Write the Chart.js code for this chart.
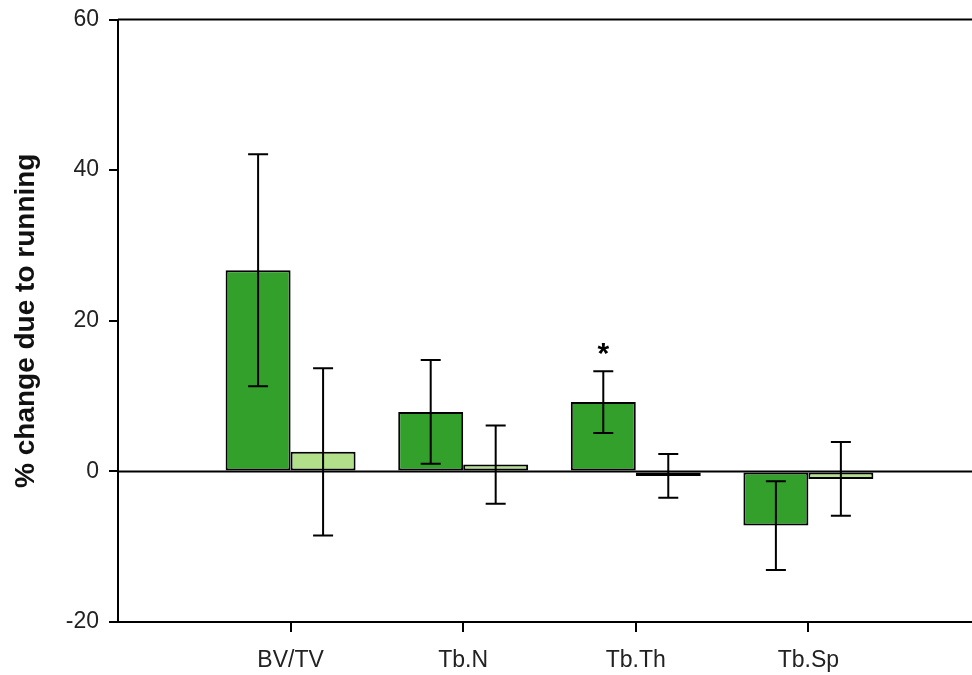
<!DOCTYPE html>
<html>
<head>
<meta charset="utf-8">
<script src="https://cdn.jsdelivr.net/npm/chart.js@4.4.1/dist/chart.umd.min.js"></script>
<style>
  html, body { margin: 0; padding: 0; background: #fff; overflow: hidden; }
  #wrap { width: 972px; height: 675px; }
</style>
</head>
<body>
<div id="wrap"><canvas id="myChart"></canvas></div>
<script>
const categories = ['BV/TV', 'Tb.N', 'Tb.Th', 'Tb.Sp'];
const runMeans = [26.7, 7.9, 9.2, -7.2];
const runErr = [15.4, 6.9, 4.1, 5.9];
const ctrlMeans = [2.6, 0.9, -0.6, -1.0];
const ctrlErr = [11.1, 5.2, 2.9, 4.9];
const sigMarks = ['', '', '*', ''];
const yTicks = [-20, 0, 20, 40, 60];

const FONT = "'Liberation Sans', Arial, sans-serif";

// bars sit at x = 1..4 on a linear axis
function points(vals){
  return vals.map((v, i) => ({ x: i + 1, y: v }));
}

// error bars, zero line, top frame and the significance star
const extras = {
  id: 'extras',
  afterDatasetsDraw(chart){
    const ctx = chart.ctx;
    const ys = chart.scales.y;
    const area = chart.chartArea;
    ctx.save();
    ctx.strokeStyle = '#000';
    ctx.lineWidth = 2;

    // top frame line
    ctx.beginPath();
    ctx.moveTo(area.left, ys.getPixelForValue(60));
    ctx.lineTo(area.right, ys.getPixelForValue(60));
    ctx.stroke();

    // zero line
    const y0 = ys.getPixelForValue(0);
    ctx.beginPath();
    ctx.moveTo(area.left, y0);
    ctx.lineTo(area.right, y0);
    ctx.stroke();

    const errs = [runErr, ctrlErr];
    const means = [runMeans, ctrlMeans];
    for (let d = 0; d < 2; d++){
      const meta = chart.getDatasetMeta(d);
      meta.data.forEach((bar, i) => {
        const x = bar.x;
        const hi = ys.getPixelForValue(means[d][i] + errs[d][i]);
        const lo = ys.getPixelForValue(means[d][i] - errs[d][i]);
        ctx.beginPath();
        ctx.moveTo(x, hi); ctx.lineTo(x, lo);
        ctx.moveTo(x - 10, hi); ctx.lineTo(x + 10, hi);
        ctx.moveTo(x - 10, lo); ctx.lineTo(x + 10, lo);
        ctx.stroke();
        if (d === 0 && sigMarks[i]){
          ctx.fillStyle = '#000';
          ctx.font = 'bold 30px ' + FONT;
          ctx.textAlign = 'center';
          ctx.textBaseline = 'middle';
          ctx.fillText(sigMarks[i], x, hi - 16);
        }
      });
    }
    ctx.restore();
  }
};

const config = {
  type: 'bar',
  data: {
    datasets: [{
      label: 'Running',
      data: points(runMeans),
      backgroundColor: '#33a02c',
      borderColor: '#000',
      borderWidth: 2,
      borderSkipped: false
    }, {
      label: 'Control',
      data: points(ctrlMeans),
      backgroundColor: '#b2df8a',
      borderColor: '#000',
      borderWidth: 2,
      borderSkipped: false
    }]
  },
  plugins: [extras],
  options: {
    responsive: true,
    maintainAspectRatio: false,
    animation: false,
    categoryPercentage: 0.753,
    barPercentage: 1.0,
    layout: { padding: { top: 19.5, right: 0, left: 9, bottom: 0 } },
    plugins: { legend: { display: false }, tooltip: { enabled: false } },
    scales: {
      x: {
        type: 'linear',
        offset: false,
        min: 0,
        max: 4.948,
        afterBuildTicks(scale){
          scale.ticks = categories.map((c, i) => ({ value: i + 1 }));
        },
        afterFit(scale){
          scale.height = 53;
          scale.paddingLeft = 0;
          scale.paddingRight = 0;
        },
        ticks: {
          callback: (v) => categories[v - 1],
          color: '#222',
          font: { family: FONT, size: 23 },
          padding: 15,
          maxRotation: 0,
          autoSkip: false
        },
        grid: {
          offset: false,
          drawOnChartArea: false,
          drawTicks: true,
          tickLength: 10,
          color: '#000',
          lineWidth: 2
        },
        border: { display: true, color: '#000', width: 2 }
      },
      y: {
        min: -20,
        max: 60,
        afterBuildTicks(scale){
          scale.ticks = yTicks.map(v => ({ value: v }));
        },
        afterFit(scale){
          scale.width = 109;
          scale.paddingTop = 0;
          scale.paddingBottom = 0;
        },
        ticks: {
          color: '#222',
          font: { family: FONT, size: 23 },
          padding: 10
        },
        grid: {
          drawOnChartArea: false,
          drawTicks: true,
          tickLength: 9,
          color: '#000',
          lineWidth: 2
        },
        border: { display: true, color: '#000', width: 2 },
        title: {
          display: true,
          text: '% change due to running',
          color: '#111',
          font: { family: FONT, size: 28, weight: 'bold' },
          padding: { top: 0, bottom: 6 }
        }
      }
    }
  }
};

const myChart = new Chart(document.getElementById('myChart'), config);
</script>
</body>
</html>
